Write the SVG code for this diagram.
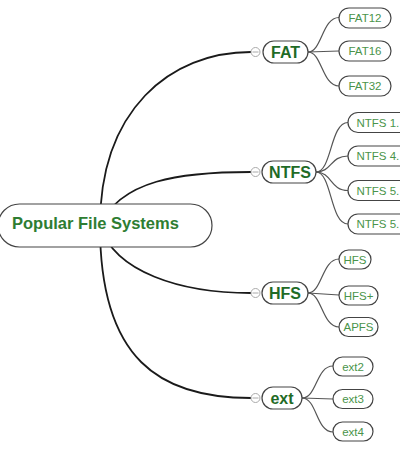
<svg xmlns="http://www.w3.org/2000/svg" width="400" height="450" viewBox="0 0 400 450">
<style>
.main{fill:none;stroke:#1a1a1a;stroke-width:1.8}
.sub{fill:none;stroke:#555;stroke-width:1.2}
.box{fill:#fff;stroke:#444;stroke-width:1.2}
.tog circle{fill:#fff;stroke:#aaa;stroke-width:1}
.tog line{stroke:#aaa;stroke-width:1}
.root{font-family:"Liberation Sans",Arial,sans-serif;font-weight:bold;font-size:16.5px;fill:#2e7d32}
.lvl1{font-family:"Liberation Sans",Arial,sans-serif;font-weight:bold;font-size:16px;fill:#1f6b26;text-anchor:middle}
.lvl2{font-family:"Liberation Sans",Arial,sans-serif;font-size:11.5px;fill:#4a944a;text-anchor:middle}
.lvl2s{text-anchor:start}
</style>
<rect width="400" height="450" fill="#fff"/>
<g id="connectors">
<path class="main" d="M100,226 C100,110 170,52 251,52"/>
<path class="main" d="M100,226 C120,180 180,172 251,172"/>
<path class="main" d="M100,226 C115,272 180,293 251,293"/>
<path class="main" d="M100,226 C100,360 160,398 251,398"/>
<path class="sub" d="M308,52 C322,52 322,17.5 339,17.5"/>
<path class="sub" d="M308,52 L339,51"/>
<path class="sub" d="M308,52 C322,52 322,86 339,86"/>
<path class="sub" d="M316,172 C332,172 330,122.5 348,122.5"/>
<path class="sub" d="M316,172 C332,172 330,156 348,156"/>
<path class="sub" d="M316,172 C332,172 330,190.5 348,190.5"/>
<path class="sub" d="M316,172 C332,172 330,224 348,224"/>
<path class="sub" d="M308,293 C322,293 322,259 339,259"/>
<path class="sub" d="M308,293 L339,295"/>
<path class="sub" d="M308,293 C322,293 322,327 339,327"/>
<path class="sub" d="M302,398 C317,398 316,366 333,366"/>
<path class="sub" d="M302,398 L333,399"/>
<path class="sub" d="M302,398 C317,398 316,432 333,432"/>
</g>
<g id="root">
<rect class="box" x="-2" y="204" width="214" height="43" rx="21.5"/>
<text class="root" x="12" y="229">Popular File Systems</text>
</g>
<g id="fat">
<g class="tog"><circle cx="255.5" cy="52" r="4.5"/><line x1="252.5" y1="52" x2="258.5" y2="52"/></g>
<rect class="box" x="263" y="41" width="45" height="22" rx="11"/>
<text class="lvl1" x="285.5" y="57.8">FAT</text>
</g>
<g id="fat12"><rect class="box" x="339" y="8" width="52" height="20" rx="10"/><text class="lvl2" x="365" y="22">FAT12</text></g>
<g id="fat16"><rect class="box" x="339" y="41" width="52" height="20" rx="10"/><text class="lvl2" x="365" y="55">FAT16</text></g>
<g id="fat32"><rect class="box" x="339" y="76" width="52" height="20" rx="10"/><text class="lvl2" x="365" y="90">FAT32</text></g>
<g id="ntfs">
<g class="tog"><circle cx="255.5" cy="172" r="4.5"/><line x1="252.5" y1="172" x2="258.5" y2="172"/></g>
<rect class="box" x="262" y="161" width="54" height="22" rx="11"/>
<text class="lvl1" x="290" y="177.8">NTFS</text>
</g>
<g id="ntfs1"><rect class="box" x="348" y="112.5" width="70" height="20" rx="10"/><text class="lvl2 lvl2s" x="356.5" y="126.5">NTFS 1.</text></g>
<g id="ntfs4"><rect class="box" x="348" y="146" width="70" height="20" rx="10"/><text class="lvl2 lvl2s" x="356.5" y="160">NTFS 4.</text></g>
<g id="ntfs50"><rect class="box" x="348" y="180.5" width="70" height="20" rx="10"/><text class="lvl2 lvl2s" x="356.5" y="194.5">NTFS 5.</text></g>
<g id="ntfs51"><rect class="box" x="348" y="214" width="70" height="20" rx="10"/><text class="lvl2 lvl2s" x="356.5" y="228">NTFS 5.</text></g>
<g id="hfs">
<g class="tog"><circle cx="255.5" cy="293" r="4.5"/><line x1="252.5" y1="293" x2="258.5" y2="293"/></g>
<rect class="box" x="262" y="282" width="46" height="22" rx="11"/>
<text class="lvl1" x="285" y="298.8">HFS</text>
</g>
<g id="hfs-c"><rect class="box" x="339" y="250" width="32" height="19" rx="9.5"/><text class="lvl2" x="355" y="263.5">HFS</text></g>
<g id="hfsplus"><rect class="box" x="339" y="286" width="39" height="19" rx="9.5"/><text class="lvl2" x="358.5" y="299.5">HFS+</text></g>
<g id="apfs"><rect class="box" x="339" y="317.5" width="39" height="19" rx="9.5"/><text class="lvl2" x="358.5" y="331">APFS</text></g>
<g id="ext">
<g class="tog"><circle cx="255.5" cy="398" r="4.5"/><line x1="252.5" y1="398" x2="258.5" y2="398"/></g>
<rect class="box" x="262" y="387" width="40" height="22" rx="11"/>
<text class="lvl1" x="282" y="403.8">ext</text>
</g>
<g id="ext2"><rect class="box" x="333" y="357" width="40" height="19" rx="9.5"/><text class="lvl2" x="353" y="370.5">ext2</text></g>
<g id="ext3"><rect class="box" x="333" y="389.5" width="40" height="19" rx="9.5"/><text class="lvl2" x="353" y="403">ext3</text></g>
<g id="ext4"><rect class="box" x="333" y="422" width="40" height="19" rx="9.5"/><text class="lvl2" x="353" y="435.5">ext4</text></g>
</svg>
